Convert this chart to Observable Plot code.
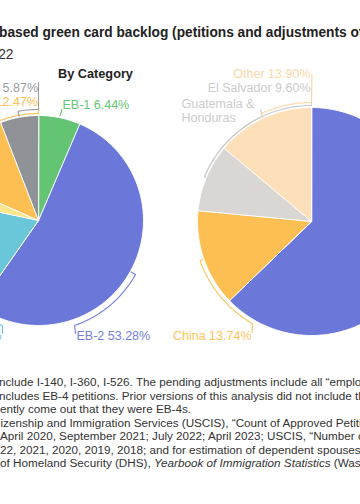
<!DOCTYPE html>
<html><head><meta charset="utf-8">
<script src="https://cdn.jsdelivr.net/npm/d3@7"></script>
<script src="https://cdn.jsdelivr.net/npm/@observablehq/plot@0.6"></script>
<style>
html,body{margin:0;padding:0;background:#fff;}
#wrap{position:relative;width:360px;height:504px;overflow:hidden;font-family:"Liberation Sans",Arial,sans-serif;}
#chart{position:absolute;left:0;top:0;}
.t{position:absolute;white-space:nowrap;line-height:1;}
</style></head>
<body><div id="wrap"><div id="chart"></div></div>
<script>
// ---- data ----
const categories = ["EB-1", "EB-2", "EB-3", "EB-4", "EB-5", "Other"];
const categoryShares = [6.44, 53.28, 18.58, 3.36, 12.47, 5.87];
const categoryColors = ["#63c474", "#6b77d9", "#6ac7d9", "#f9e58a", "#fdbf52", "#8f9398"];
const categoryLabelColors = ["#62c872", "#7680df", "#6ac7d9", "#f0d870", "#fbc055", "#9a9ea3"];

const countries = ["India", "China", "El Salvador", "Other"];
const countryShares = [62.76, 13.74, 9.60, 13.90];
const countryColors = ["#6b77d9", "#fdbf52", "#d9d6d4", "#fde0b9"];
const countryLabelColors = ["#7680df", "#fbc45e", "#cccccc", "#fbd8a8"];
const extraCountryLabel = "Guatemala &\nHonduras";

const titleText = "Employment-based green card backlog (petitions and adjustments of status)";
const subtitleText = "2022";
const panelTitle = "By Category";
const noteLines = [
  "nclude I-140, I-360, I-526. The pending adjustments include all \u201cemployment-based\u201d",
  "ncludes EB-4 petitions. Prior versions of this analysis did not include these",
  "ently come out that they were EB-4s.",
  "izenship and Immigration Services (USCIS), \u201cCount of Approved Petitions\u201d",
  " April 2020, September 2021; July 2022; April 2023; USCIS, \u201cNumber of\u201d",
  "22, 2021, 2020, 2019, 2018; and for estimation of dependent spouses and",
  "of Homeland Security (DHS), <i>Yearbook of Immigration Statistics</i> (Washington)"
];

// ---- layout ----
const W = 360, H = 504;
const FONT = '"Liberation Sans", Arial, sans-serif';
const pies = [
  {id: "cat", cx: 38, cy: 220, r: 105, names: categories, values: categoryShares, colors: categoryColors, tcolors: categoryLabelColors},
  {id: "cty", cx: 311, cy: 221, r: 114, names: countries, values: countryShares, colors: countryColors, tcolors: countryLabelColors}
];
// callouts: pie, slice index, attach angle, bracket offset, leader end, text baseline position, anchor
const callouts = [
  {pie: 0, i: 0, a1: null, dr: 2, lead: [61.5, 109], tx: 62, ty: 107.5, anchor: "start"},
  {pie: 0, i: 1, a1: 161, dr: 6, lead: [75, 333], tx: 76, ty: 338, anchor: "start"},
  {pie: 0, i: 2, a1: 199, dr: 6, lead: [2, 333], tx: 1, ty: 338, anchor: "end"},
  {pie: 0, i: 4, a1: 360, dr: 2, lead: [38, 97], tx: 37.5, ty: 104, anchor: "end"},
  {pie: 0, i: 5, a1: 360, dr: 6, lead: [38, 82], tx: 37.5, ty: 90, anchor: "end"},
  {pie: 1, i: 1, a1: 210, dr: 4, lead: [251.5, 332], tx: 251, ty: 338, anchor: "end"},
  {pie: 1, i: 2, a1: 360, dr: 2, lead: [311, 88], tx: 310, ty: 90.5, anchor: "end"},
  {pie: 1, i: 2, a1: 335, dr: 2, lead: [260, 109], tx: 181, ty: 106.7, anchor: "start", extra: true},
  {pie: 1, i: 3, a1: 360, dr: 5, lead: [311.5, 74], tx: 310, ty: 76.5, anchor: "end"}
];
const LABEL_SIZE = 12.5;

const rad = d => d * Math.PI / 180;
const pt = (p, a, r) => ({x: p.cx + r * Math.sin(rad(a)), y: p.cy - r * Math.cos(rad(a))});

const polys = [];
pies.forEach(p => {
  const total = d3.sum(p.values);
  let acc = 0;
  p.a0 = []; p.a1 = []; p.mid = [];
  p.names.forEach((n, i) => {
    const a0 = acc / total * 360; acc += p.values[i]; const a1 = acc / total * 360;
    p.a0.push(a0); p.a1.push(a1); p.mid.push((a0 + a1) / 2);
    const key = p.id + ":" + n;
    polys.push({key, x: p.cx, y: p.cy, color: p.colors[i]});
    const steps = Math.max(2, Math.ceil((a1 - a0) / 1));
    for (let k = 0; k <= steps; k++) {
      const q = pt(p, a0 + (a1 - a0) * k / steps, p.r);
      polys.push({key, x: q.x, y: q.y, color: p.colors[i]});
    }
  });
});

const brackets = [];
const labels = [];
callouts.forEach((c, j) => {
  const p = pies[c.pie];
  const mid = p.mid[c.i];
  const color = p.tcolors[c.i];
  const key = "b" + j;
  const pts = [];
  if (c.a1 != null) {
    pts.push(pt(p, mid, p.r + 1));
    const steps = Math.max(1, Math.ceil(Math.abs(c.a1 - mid)));
    for (let k = 0; k <= steps; k++) pts.push(pt(p, mid + (c.a1 - mid) * k / steps, p.r + c.dr));
  } else {
    pts.push(pt(p, mid, p.r + c.dr));
  }
  pts.push({x: c.lead[0], y: c.lead[1]});
  pts.forEach(q => brackets.push({key, x: q.x, y: q.y, color}));
  const text = c.extra ? extraCountryLabel : `${p.names[c.i]} ${p.values[c.i].toFixed(2)}%`;
  labels.push({x: c.tx, y: c.ty - 0.71 * LABEL_SIZE, text, color, anchor: c.anchor});
});

const chart = Plot.plot({
  width: W, height: H, margin: 0,
  x: {domain: [0, W], range: [0, W], axis: null},
  y: {domain: [0, H], range: [0, H], axis: null},
  color: {type: "identity"},
  style: {background: "transparent", overflow: "hidden"},
  marks: [
    Plot.line(polys, {x: "x", y: "y", z: "key", fill: "color", stroke: "#ffffff", strokeWidth: 1, curve: "linear-closed"}),
    Plot.line(brackets, {x: "x", y: "y", z: "key", stroke: "color", strokeWidth: 1.1, fill: "none"}),
    Plot.text(labels.filter(d => d.anchor === "start"), {x: "x", y: "y", text: "text", fill: "color", textAnchor: "start", lineAnchor: "top", lineHeight: 1.12, fontSize: LABEL_SIZE, fontFamily: FONT}),
    Plot.text(labels.filter(d => d.anchor === "end"), {x: "x", y: "y", text: "text", fill: "color", textAnchor: "end", lineAnchor: "top", lineHeight: 1.12, fontSize: LABEL_SIZE, fontFamily: FONT})
  ]
});
document.getElementById("chart").appendChild(chart);

// ---- HTML text ----
const ctx = document.createElement("canvas").getContext("2d");
function measure(str, size, weight = "normal", style = "normal") {
  ctx.font = `${style} ${weight} ${size}px "Liberation Sans"`;
  return ctx.measureText(str).width;
}
function fit(str, target, weight) { return 100 * target / measure(str, 100, weight); }
const wrap = document.getElementById("wrap");
function place(html, left, baseline, size, weight, color) {
  const d = document.createElement("div");
  d.className = "t";
  d.innerHTML = html;
  d.style.left = left + "px";
  d.style.top = (baseline - 0.8465 * size) + "px";
  d.style.fontSize = size + "px";
  d.style.fontWeight = weight;
  d.style.color = color;
  wrap.appendChild(d);
  return d;
}
// title
const tVisible = "based green card backlog (petitions and adjustments o";
const tSize = fit(tVisible, 360, "bold");
const prefixW = measure("Employment-", tSize, "bold");
place(titleText, -1 - prefixW, 38, tSize, "bold", "#222");
// subtitle: right edge of "2022" at 13.5
const sSize = tSize;
place(subtitleText, 13.5 - measure(subtitleText, sSize), 60, sSize, "normal", "#333");
// panel title
const pSize = fit(panelTitle, 75, "bold");
place(panelTitle, 58, 78.5, pSize, "bold", "#222");
// notes
const nSize = fit(noteLines[0].slice(0, 70), 363, "normal");
const noteBase = [386, 399.5, 413, 426.7, 440, 453.7, 467];
const noteLeft = [-1, -1, 0, 0.5, 0, 0, 0];
noteLines.forEach((s, k) => place(s, noteLeft[k], noteBase[k], nSize, "normal", "#333"));
</script>
</body></html>
